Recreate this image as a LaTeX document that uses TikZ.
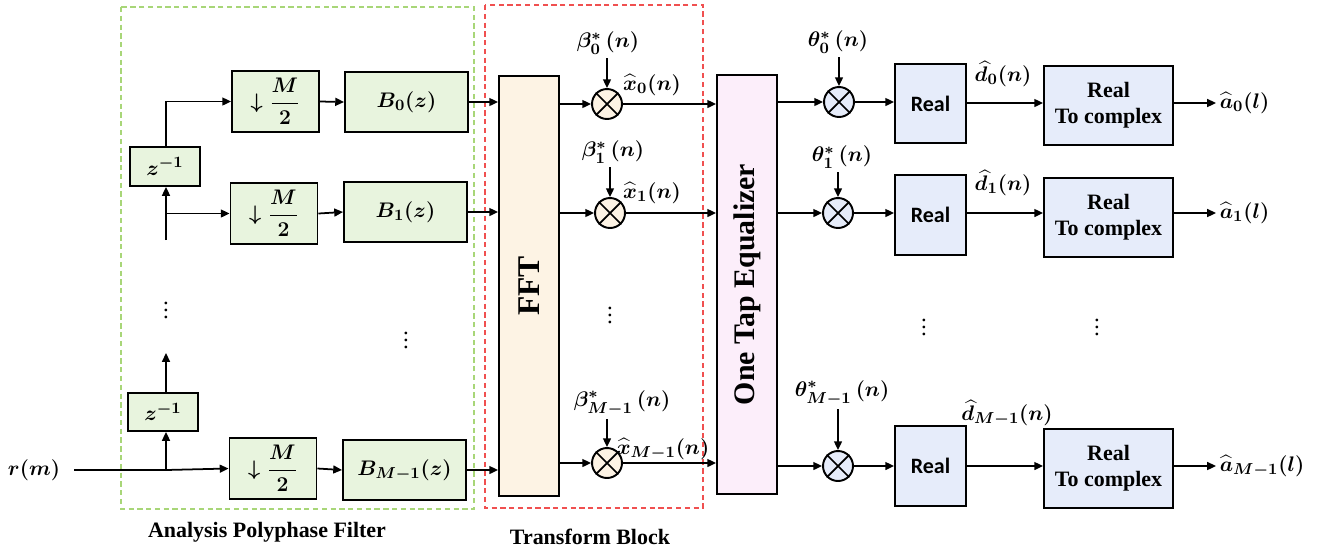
\documentclass[tikz,border=0pt]{standalone}
\usepackage{amsmath}
\usepackage[no-math]{fontspec}
\setmainfont{Liberation Serif}
\newfontfamily\realfont{Carlito}
\usetikzlibrary{arrows.meta,calc}
\definecolor{gfill}{RGB}{232,244,222}
\definecolor{gdash}{RGB}{168,214,120}
\definecolor{rdash}{RGB}{240,80,80}
\definecolor{cfill}{RGB}{253,243,228}
\definecolor{pfill}{RGB}{252,238,250}
\definecolor{bfill}{RGB}{230,236,250}
\begin{document}
\begin{tikzpicture}[x=0.02cm,y=-0.02cm,
  mfont/.style={font=\fontsize{13}{15}\selectfont\boldmath},
  box/.style={draw, line width=1.1pt, inner sep=0pt, align=center, mfont},
  gbox/.style={box, fill=gfill},
  bbox/.style={box, fill=bfill},
  mult/.style={circle, draw, line width=1.1pt, minimum size=0.6cm, inner sep=0pt},
  lab/.style={mfont, inner sep=2pt},
  arr/.style={line width=1pt, -{Triangle[length=5pt,width=4.5pt]}},
  ln/.style={line width=1pt},
  captxt/.style={font=\fontsize{12.5}{14}\selectfont\bfseries},
  dots/.style={font=\fontsize{13}{15}\selectfont, inner sep=0pt}
]
\useasboundingbox (0,0) rectangle (1325,552);
% group frames
\draw[gdash, line width=0.8pt, dash pattern=on 3pt off 2pt] (121,7) rectangle (474,509);
\draw[rdash, line width=0.8pt, dash pattern=on 3pt off 2pt] (485,5) rectangle (703,508);
\node[captxt] (capA) at (267,532) {Analysis Polyphase Filter};
\node[captxt] (capT) at (590,537) {Transform Block};

% polyphase part
\node[gbox, minimum width=1.4cm, minimum height=0.78cm] (z1) at (165,166.5) {$z^{-1}$};
\node[gbox, minimum width=1.4cm, minimum height=0.76cm] (z2) at (163,412) {$z^{-1}$};
\node[gbox, minimum width=1.74cm, minimum height=1.22cm] (d0) at (275.5,101.5) {$\downarrow\dfrac{M}{2}$};
\node[gbox, minimum width=1.74cm, minimum height=1.22cm] (d1) at (274,213.5) {$\downarrow\dfrac{M}{2}$};
\node[gbox, minimum width=1.74cm, minimum height=1.22cm] (d2) at (273,468.5) {$\downarrow\dfrac{M}{2}$};
\node[gbox, minimum width=2.46cm, minimum height=1.2cm] (B0) at (406.5,102) {$B_0(z)$};
\node[gbox, minimum width=2.46cm, minimum height=1.2cm] (B1) at (405.5,212) {$B_1(z)$};
\node[gbox, minimum width=2.46cm, minimum height=1.2cm] (B2) at (404.5,470) {$B_{M-1}(z)$};

\node[lab] (rm) at (34,470) {$r(m)$};
\coordinate (rs) at (74,470);
\coordinate (j2) at (166,470);
\coordinate (j1) at (166,240);
\coordinate (jt) at (166,353);

\draw[ln] (rs) -- (j2);
\draw[arr] (j2) -- (d2.west);
\draw[arr] (j2) -- (j2 |- z2.south);
\draw[arr] (z2.north -| j2) -- (jt);
\draw[arr] (j1) -- (j1 |- z1.south);
\draw[arr] (j1 |- d1) -- (d1.west);
\draw[arr] (z1.north -| j1) -- (j1 |- d0) -- (d0.west);
\draw[arr] (d0.east) -- (B0.west);
\draw[arr] (d1.east) -- (B1.west);
\draw[arr] (d2.east) -- (B2.west);
\node[dots] (v1) at (166,305) {$\vdots$};
\node[dots] (v2) at (406,335) {$\vdots$};

% transform block
\node[box, fill=cfill, minimum width=1.2cm, minimum height=8.4cm] (fft) at (529,286) {};
\node[rotate=90, font=\fontsize{18}{20}\selectfont\bfseries] (fftt) at (fft) {FFT};
\draw[arr] (B0.east) -- (B0.east -| fft.west);
\draw[arr] (B1.east) -- (B1.east -| fft.west);
\draw[arr] (B2.east) -- (B2.east -| fft.west);

\node[mult, fill=cfill] (m0) at (607,104) {};
\node[mult, fill=cfill] (m1) at (610,213) {};
\node[mult, fill=cfill] (m2) at (607,463) {};
\foreach \m in {m0,m1,m2}{
  \draw[line width=1pt] (\m.45) -- (\m.225) (\m.135) -- (\m.-45);
}
\draw[arr] (fft.east |- m0) -- (m0.west);
\draw[arr] (fft.east |- m1) -- (m1.west);
\draw[arr] (fft.east |- m2) -- (m2.west);

\node[lab] (b0) at (608,43) {$\beta_0^{*}\,(n)$};
\node[lab] (b1) at (613,152) {$\beta_1^{*}\,(n)$};
\node[lab] (b2) at (622,403) {$\beta_{M-1}^{*}\,(n)$};
\draw[arr] (b0.south -| m0) -- (m0.north);
\draw[arr] (b1.south -| m1) -- (m1.north);
\draw[arr] (b2.south -| m2) -- (m2.north);
\node[dots] (v3) at (610,310) {$\vdots$};

\node[box, fill=pfill, minimum width=1.2cm, minimum height=8.38cm] (eq) at (747,284.5) {};
\node[rotate=90, font=\fontsize{17}{19}\selectfont\bfseries] (eqt) at (eq) {One Tap Equalizer};
\draw[arr] (m0.east) -- (m0.east -| eq.west);
\draw[arr] (m1.east) -- (m1.east -| eq.west);
\draw[arr] (m2.east) -- (m2.east -| eq.west);
\node[lab] (x0) at (652,85) {$\widehat{x}_0(n)$};
\node[lab] (x1) at (652,193) {$\widehat{x}_1(n)$};
\node[lab] (x2) at (663,449) {$\widehat{x}_{M-1}(n)$};

% equalizer outputs
\node[mult, fill=bfill] (t0) at (839,102) {};
\node[mult, fill=bfill] (t1) at (838,213) {};
\node[mult, fill=bfill] (t2) at (838,466) {};
\foreach \m in {t0,t1,t2}{
  \draw[line width=1pt] (\m.45) -- (\m.225) (\m.135) -- (\m.-45);
}
\draw[arr] (eq.east |- t0) -- (t0.west);
\draw[arr] (eq.east |- t1) -- (t1.west);
\draw[arr] (eq.east |- t2) -- (t2.west);
\node[lab] (th0) at (838,42) {$\theta_0^{*}\,(n)$};
\node[lab] (th1) at (842,157) {$\theta_1^{*}\,(n)$};
\node[lab] (th2) at (842,393) {$\theta_{M-1}^{*}\,(n)$};
\draw[arr] (th0.south -| t0) -- (t0.north);
\draw[arr] (th1.south -| t1) -- (t1.north);
\draw[arr] (th2.south -| t2) -- (t2.north);

\node[bbox, minimum width=1.42cm, minimum height=1.58cm, font=\fontsize{12.5}{14}\realfont\bfseries] (R0) at (930.5,103.5) {Real};
\node[bbox, minimum width=1.42cm, minimum height=1.6cm, font=\fontsize{12.5}{14}\realfont\bfseries] (R1) at (930.5,215) {Real};
\node[bbox, minimum width=1.42cm, minimum height=1.6cm, font=\fontsize{12.5}{14}\realfont\bfseries] (R2) at (930.5,466) {Real};
\draw[arr] (t0.east) -- (t0.east -| R0.west);
\draw[arr] (t1.east) -- (t1.east -| R1.west);
\draw[arr] (t2.east) -- (t2.east -| R2.west);

\node[bbox, minimum width=2.58cm, minimum height=1.58cm, font=\fontsize{12.5}{15}\selectfont\bfseries] (C0) at (1108.5,105.5) {Real\\To complex};
\node[bbox, minimum width=2.58cm, minimum height=1.58cm, font=\fontsize{12.5}{15}\selectfont\bfseries] (C1) at (1108.5,217.5) {Real\\To complex};
\node[bbox, minimum width=2.58cm, minimum height=1.58cm, font=\fontsize{12.5}{15}\selectfont\bfseries] (C2) at (1108.5,468.5) {Real\\To complex};
\draw[arr] (R0.east |- 0,103) -- (C0.west |- 0,103);
\draw[arr] (R1.east |- 0,213) -- (C1.west |- 0,213);
\draw[arr] (R2.east |- 0,466) -- (C2.west |- 0,466);
\node[lab] (dd0) at (1003,74) {$\widehat{d}_0(n)$};
\node[lab] (dd1) at (1003,183) {$\widehat{d}_1(n)$};
\node[lab] (dd2) at (1007,413) {$\widehat{d}_{M-1}(n)$};

\node[lab, anchor=west] (a0) at (1216,103) {$\widehat{a}_0(l)$};
\node[lab, anchor=west] (a1) at (1216,213) {$\widehat{a}_1(l)$};
\node[lab, anchor=west] (a2) at (1216,466) {$\widehat{a}_{M-1}(l)$};
\draw[arr] (C0.east |- a0) -- (a0.west);
\draw[arr] (C1.east |- a1) -- (a1.west);
\draw[arr] (C2.east |- a2) -- (a2.west);
\node[dots] (v4) at (924,322) {$\vdots$};
\node[dots] (v5) at (1097,322) {$\vdots$};
\end{tikzpicture}
\end{document}
